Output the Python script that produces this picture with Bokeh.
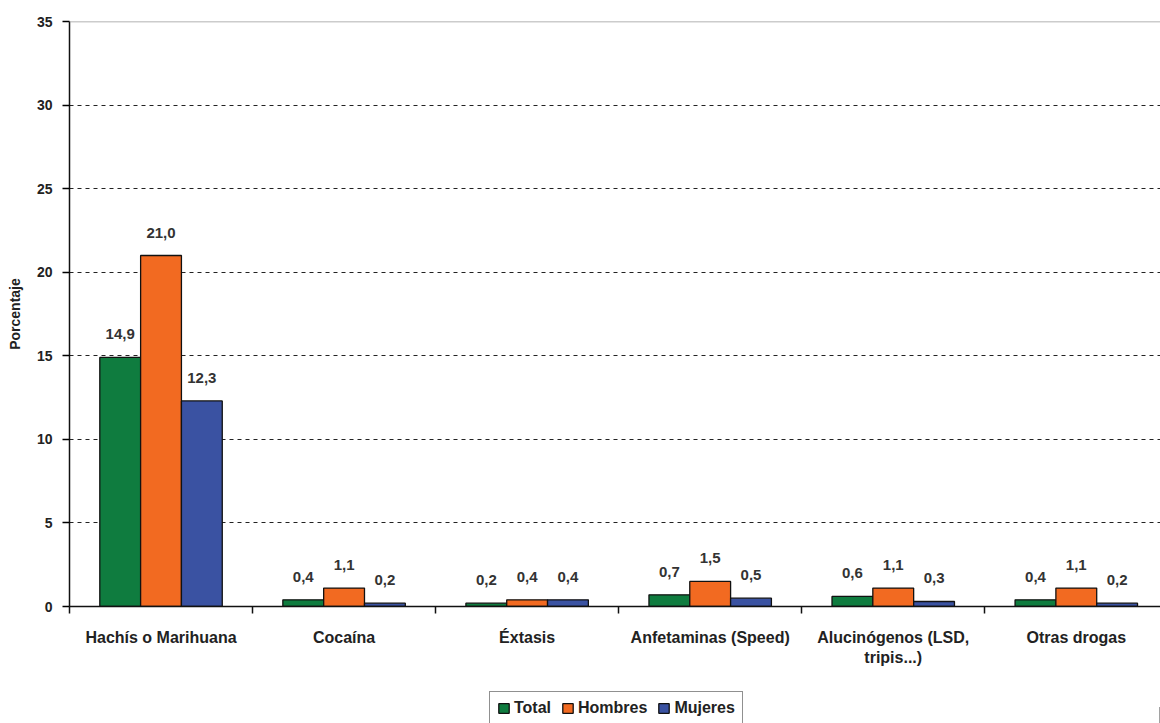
import numpy as np
from bokeh.plotting import figure
from bokeh.layouts import column
from bokeh.models import (ColumnDataSource, FixedTicker, Range1d, Legend, LegendItem,
                          LabelSet, Span)
from bokeh.core.properties import value
from bokeh.embed import file_html
from bokeh.resources import INLINE

categories = ["Hachís o Marihuana", "Cocaína", "Éxtasis", "Anfetaminas (Speed)",
              "Alucinógenos (LSD,\ntripis...)", "Otras drogas"]
total = [14.9, 0.4, 0.2, 0.7, 0.6, 0.4]
hombres = [21.0, 1.1, 0.4, 1.5, 1.1, 1.1]
mujeres = [12.3, 0.2, 0.4, 0.5, 0.3, 0.2]
series_names = ["Total", "Hombres", "Mujeres"]
series_colors = ["#0f7c3f", "#f26a21", "#3a52a2"]
y_ticks = [0, 5, 10, 15, 20, 25, 30, 35]

FONT = "Liberation Sans"
bar_w = 0.223
offsets = [-bar_w, 0.0, bar_w]

p = figure(width=1160, height=690, output_backend="svg", toolbar_location=None,
           x_range=Range1d(0, 5.96), y_range=Range1d(0, 35),
           min_border_left=69, min_border_right=0, min_border_top=21,
           min_border_bottom=84)
p.outline_line_color = None
p.background_fill_color = "white"
p.border_fill_color = "white"

base = np.arange(len(categories)) + 0.5
renderers = []
for vals, name, col, off in zip([total, hombres, mujeres], series_names, series_colors, offsets):
    src = ColumnDataSource(dict(x=base + off, top=vals,
                                lab=[f"{v:.1f}".replace(".", ",") for v in vals]))
    r = p.vbar(x="x", top="top", width=bar_w, source=src, fill_color=col,
               line_color="#111111", line_width=1.3)
    renderers.append((name, r))
    p.add_layout(LabelSet(x="x", y="top", text="lab", source=src, y_offset=23,
                          text_align="center", text_baseline="middle",
                          text_font=value(FONT), text_font_style="bold",
                          text_font_size="15px", text_color="#333333"))

# grid
p.xgrid.grid_line_color = None
p.ygrid.ticker = FixedTicker(ticks=y_ticks[:-1])
p.ygrid.grid_line_color = "#222222"
p.ygrid.grid_line_dash = "4 4"
p.ygrid.grid_line_width = 1.2
p.add_layout(Span(location=35, dimension="width", line_color="#999999", line_width=1.5))

# y axis
p.yaxis.ticker = FixedTicker(ticks=y_ticks)
p.yaxis.axis_label = "Porcentaje"
p.yaxis.axis_label_text_font = FONT
p.yaxis.axis_label_text_font_size = "14px"
p.yaxis.axis_label_text_font_style = "bold"
p.yaxis.axis_label_text_color = "#222222"
p.yaxis.axis_label_standoff = 11
p.yaxis.major_label_text_font = FONT
p.yaxis.major_label_text_font_style = "bold"
p.yaxis.major_label_text_font_size = "14px"
p.yaxis.major_label_text_color = "#222222"
p.yaxis.axis_line_color = "#111111"
p.yaxis.axis_line_width = 1.5
p.yaxis.major_tick_out = 7
p.yaxis.major_tick_in = 0
p.yaxis.major_tick_line_width = 1.5
p.yaxis.minor_tick_line_color = None
p.yaxis.major_label_standoff = 10

# x axis: labels at centers, ticks at boundaries (minor ticks)
p.xaxis.ticker = FixedTicker(ticks=list(base), minor_ticks=list(range(len(categories) + 1)))
p.xaxis.major_label_overrides = {float(b): c for b, c in zip(base, categories)}
p.xaxis.major_tick_line_color = None
p.xaxis.minor_tick_line_color = "#111111"
p.xaxis.minor_tick_line_width = 1.5
p.xaxis.minor_tick_out = 7
p.xaxis.minor_tick_in = 0
p.xaxis.axis_line_color = "#111111"
p.xaxis.axis_line_width = 1.5
p.xaxis.major_label_text_font = FONT
p.xaxis.major_label_text_font_style = "bold"
p.xaxis.major_label_text_font_size = "16px"
p.xaxis.major_label_text_color = "#222222"
p.xaxis.major_label_standoff = 15

# legend in a small figure below the chart
lg = figure(width=1160, height=33, output_backend="svg", toolbar_location=None,
            x_range=Range1d(0, 1), y_range=Range1d(0, 1),
            min_border_left=0, min_border_right=0, min_border_top=0, min_border_bottom=0)
lg.axis.visible = False
lg.grid.visible = False
lg.outline_line_color = None
items = []
for name, col in zip(series_names, series_colors):
    rr = lg.vbar(x=[5], top=[0.5], width=0.1, fill_color=col, line_color="#111111",
                 line_width=1.3)
    items.append(LegendItem(label=name, renderers=[rr]))
legend = Legend(items=items, orientation="horizontal", location=(420, -2),
                label_text_font=FONT, label_text_font_style="bold",
                label_text_font_size="16px", label_text_color="#222222",
                glyph_width=13, glyph_height=12, label_standoff=4, spacing=10,
                padding=7, margin=0, border_line_color="#222222", border_line_width=1.5,
                label_height=16)
lg.add_layout(legend)

open("out.html", "w").write(file_html(column(p, lg, spacing=0), INLINE))
